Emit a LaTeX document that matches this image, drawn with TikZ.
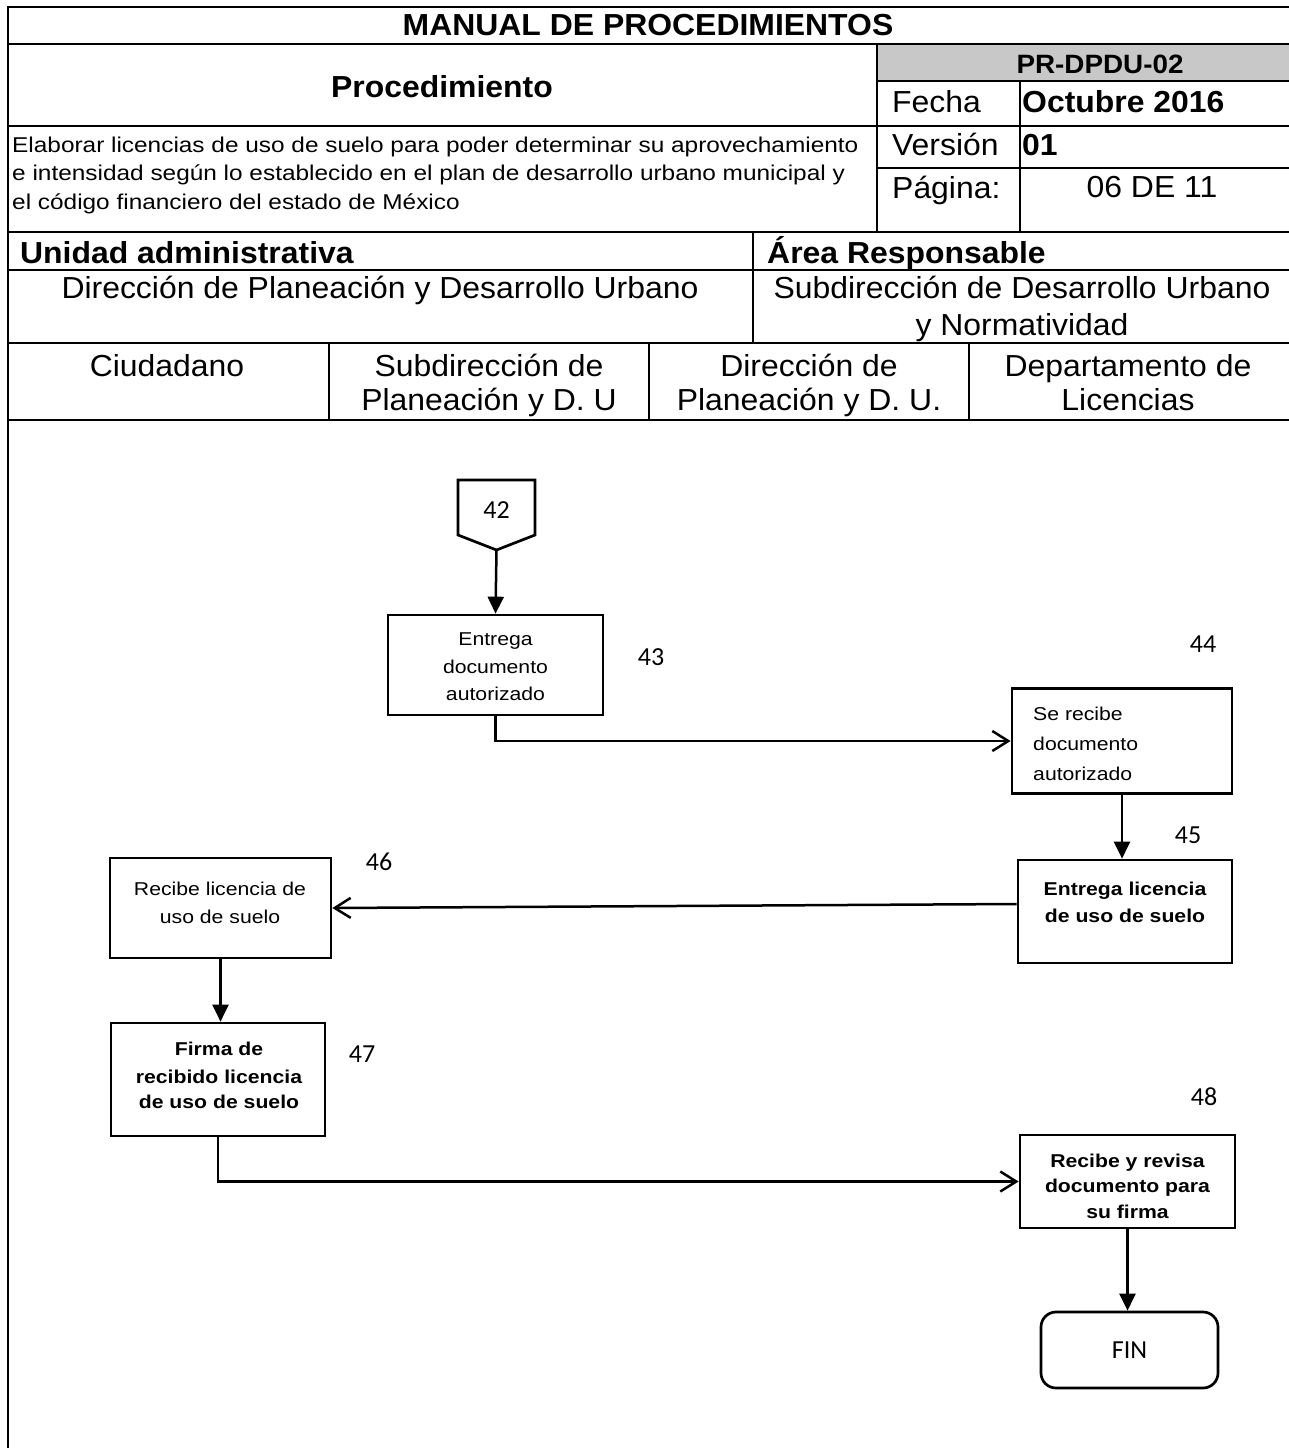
\documentclass[tikz,border=0pt]{standalone}
\usepackage{fontspec}
\setmainfont{Liberation Sans}[FakeStretch=1.14]
\newfontfamily\hdfont{Liberation Sans}[FakeStretch=1.05]
\newfontfamily\calfont{Carlito}
\usetikzlibrary{arrows.meta}
\definecolor{hdrgray}{RGB}{200,200,200}
\tikzset{
  grid/.style={line width=2.9pt, line cap=rect},
  box/.style={draw, line width=2.7pt, inner sep=0pt, rectangle},
  fa/.style={line width=2.5pt, -{Triangle[length=17pt,width=16pt]}},
  oa/.style={line width=2.5pt, -{Straight Barb[length=16pt,width=20pt]}},
  txt/.style={inner sep=0pt, anchor=base},
  txtw/.style={inner sep=0pt, anchor=base west},
  hd/.style={font=\hdfont\fontsize{30.4}{35}\selectfont},
  ds/.style={font=\fontsize{21.4}{26}\selectfont},
  bx/.style={font=\fontsize{18.6}{22}\selectfont},
  bxb/.style={font=\fontsize{18.6}{22}\selectfont\bfseries},
  num/.style={font=\fontsize{26}{30}\calfont},
}
\begin{document}
\begin{tikzpicture}[x=1pt,y=-1pt]
\useasboundingbox (0,0) rectangle (1288,1448);
% ---------- header table ----------
\fill[hdrgray] (877,44) rectangle (1292,81);
\draw[grid] (8,7) -- (1292,7);
\draw[grid] (8,7) -- (8,1452);
\draw[grid] (8,44) -- (1292,44);
\draw[grid] (877,81) -- (1292,81);
\draw[grid] (8,126) -- (1292,126);
\draw[grid] (877,168) -- (1292,168);
\draw[grid] (8,232) -- (1292,232);
\draw[grid] (8,270) -- (1292,270);
\draw[grid] (8,343) -- (1292,343);
\draw[grid] (8,420) -- (1292,420);
\draw[grid] (877,44) -- (877,232);
\draw[grid] (1020,81) -- (1020,232);
\draw[grid] (753,232) -- (753,343);
\draw[grid] (329,343) -- (329,420);
\draw[grid] (649,343) -- (649,420);
\draw[grid] (969,343) -- (969,420);

\node[txt,hd] (hmanual) at (648,35) {\bfseries MANUAL DE PROCEDIMIENTOS};
\node[txt,hd] (hproc) at (442,97) {\bfseries Procedimiento};
\node[txt,font=\hdfont\fontsize{26.5}{30}\selectfont\bfseries] (hcode) at (1100,73) {PR-DPDU-02};
\node[txtw,hd] (hfecha) at (892,112) {Fecha};
\node[txtw,hd] (hfechav) at (1022,112) {\bfseries Octubre 2016};
\node[txtw,hd] (hver) at (892,155) {Versión};
\node[txtw,hd] (hverv) at (1022,155) {\bfseries 01};
\node[txtw,hd] (hpag) at (892,198) {Página:};
\node[txt,hd] (hpagv) at (1152,197) {06 DE 11};
\node[txtw,ds] (hd1) at (12,152) {Elaborar licencias de uso de suelo para poder determinar su aprovechamiento};
\node[txtw,ds] (hd2) at (12,180) {e intensidad según lo establecido en el plan de desarrollo urbano municipal y};
\node[txtw,ds] (hd3) at (12,209) {el código financiero del estado de México};
\node[txtw,hd] (hunidad) at (20,263) {\bfseries Unidad administrativa};
\node[txtw,hd] (harea) at (767,263) {\bfseries Área Responsable};
\node[txt,hd] (hdir) at (380,298) {Dirección de Planeación y Desarrollo Urbano};
\node[txt,hd] (hsub1) at (1022,298) {Subdirección de Desarrollo Urbano};
\node[txt,hd] (hsub2) at (1022,335) {y Normatividad};
\node[txt,hd] (l1) at (167,376) {Ciudadano};
\node[txt,hd] (l2a) at (489,376) {Subdirección de};
\node[txt,hd] (l2b) at (489,410) {Planeación y D. U};
\node[txt,hd] (l3a) at (809,376) {Dirección de};
\node[txt,hd] (l3b) at (809,410) {Planeación y D. U.};
\node[txt,hd] (l4a) at (1128,376) {Departamento de};
\node[txt,hd] (l4b) at (1128,410) {Licencias};

% ---------- flow ----------
\draw[line width=2.7pt, line join=miter] (458,480) -- (535,480) -- (535,535) -- (496.5,550) -- (458,535) -- cycle;
\coordinate (c42) at (496.5,550);
\node[txt,num] (n42) at (496.5,518) {42};

\node[box, minimum width=215, minimum height=100] (b43) at (495.5,665) {};
\node[box, minimum width=220, minimum height=105] (b44) at (1122,741) {};
\node[box, minimum width=214, minimum height=103] (b45) at (1125,911.5) {};
\node[box, minimum width=221, minimum height=100] (b46) at (220.5,908) {};
\node[box, minimum width=214, minimum height=113] (b47) at (218,1079.5) {};
\node[box, minimum width=215, minimum height=93] (b48) at (1127.5,1181.5) {};
\node[draw, line width=2.7pt, rounded corners=15pt, minimum width=177, minimum height=76, inner sep=0pt, font=\fontsize{26}{30}\calfont] (fin) at (1129.5,1350) {FIN};

\node[txt,bx] (t43a) at (495.5,645) {Entrega};
\node[txt,bx] (t43b) at (495.5,673) {documento};
\node[txt,bx] (t43c) at (495.5,700) {autorizado};
\node[txtw,bx] (t44a) at (1033,720) {Se recibe};
\node[txtw,bx] (t44b) at (1033,750) {documento};
\node[txtw,bx] (t44c) at (1033,780) {autorizado};
\node[txt,bxb] (t45a) at (1125,895) {Entrega licencia};
\node[txt,bxb] (t45b) at (1125,922) {de uso de suelo};
\node[txt,bx] (t46a) at (220,895) {Recibe licencia de};
\node[txt,bx] (t46b) at (220,923) {uso de suelo};
\node[txt,bxb] (t47a) at (219,1055) {Firma de};
\node[txt,bxb] (t47b) at (219,1083) {recibido licencia};
\node[txt,bxb] (t47c) at (219,1108) {de uso de suelo};
\node[txt,bxb] (t48a) at (1127.5,1167) {Recibe y revisa};
\node[txt,bxb] (t48b) at (1127.5,1192) {documento para};
\node[txt,bxb] (t48c) at (1127.5,1218) {su firma};

\node[txt,num] (n43) at (651,665) {43};
\node[txt,num] (n44) at (1203,652) {44};
\node[txt,num] (n45) at (1188,843) {45};
\node[txt,num] (n46) at (379,870) {46};
\node[txt,num] (n47) at (362,1062) {47};
\node[txt,num] (n48) at (1204,1105) {48};

\draw[fa] (c42) -- (b43.north);
\draw[oa] (b43.south) |- (b44.west);
\draw[fa] (b44.south) -- (b44.south |- b45.north);
\draw[oa] ([yshift=7.5pt]b45.west) -- (b46.east);
\draw[fa] (b46.south) -- (b46.south |- b47.north);
\draw[oa] (b47.south) |- (b48.west);
\draw[fa] (b48.south) -- (b48.south |- fin.north);
\end{tikzpicture}
\end{document}
